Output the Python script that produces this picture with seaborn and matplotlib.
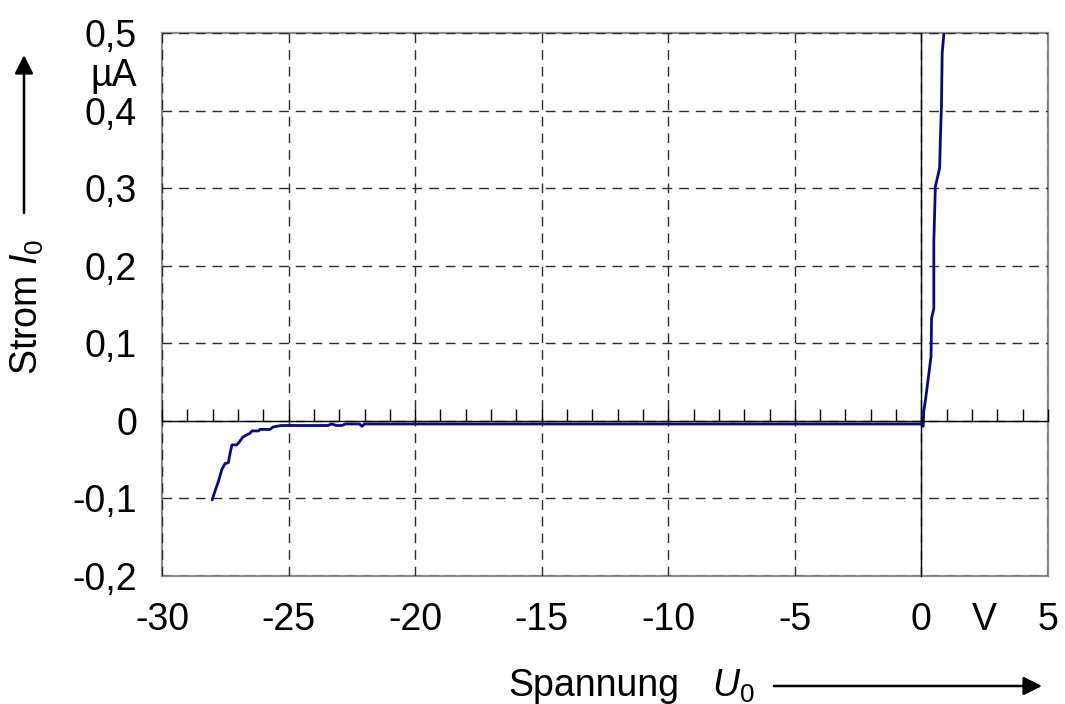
import numpy as np
import pandas as pd
import matplotlib
matplotlib.use("Agg")
import matplotlib.pyplot as plt
import seaborn as sns

# ---- data ----
spannung = [-28.02, -27.89, -27.77, -27.64, -27.51, -27.38, -27.31, -27.24, -27.05,
            -26.94, -26.81, -26.65, -26.52, -26.45, -26.19, -26.13, -25.73, -25.62,
            -25.30, -23.45, -23.30, -23.10, -22.90, -22.75, -22.20, -22.10, -22.00,
            -10.00, 0.00, 0.07, 0.09, 0.16, 0.38, 0.40, 0.49, 0.49, 0.55, 0.72,
            0.75, 0.79, 0.82, 0.89]
strom = [-0.102, -0.089, -0.078, -0.063, -0.055, -0.054, -0.042, -0.031, -0.031,
         -0.027, -0.021, -0.018, -0.016, -0.013, -0.013, -0.011, -0.011, -0.008,
         -0.006, -0.006, -0.004, -0.006, -0.006, -0.004, -0.004, -0.007, -0.004,
         -0.004, -0.004, -0.007, 0.012, 0.027, 0.083, 0.132, 0.145, 0.231, 0.302,
         0.326, 0.366, 0.405, 0.474, 0.500]

x_tick_vals = [-30, -25, -20, -15, -10, -5, 0, 2.5, 5]
x_tick_labels = ["-30", "-25", "-20", "-15", "-10", "-5", "0", "V", "5"]
y_tick_vals = [-0.2, -0.1, 0.0, 0.1, 0.2, 0.3, 0.4, 0.45, 0.5]
y_tick_labels = ["-0,2", "-0,1", "0", "0,1", "0,2", "0,3", "0,4", "µA", "0,5"]

df = pd.DataFrame({"U": spannung, "I": strom})

sns.set_theme(style="white")
plt.rcParams["font.family"] = ["Liberation Sans", "DejaVu Sans"]
plt.rcParams["mathtext.fontset"] = "custom"
plt.rcParams["mathtext.rm"] = "Liberation Sans"
plt.rcParams["mathtext.it"] = "Liberation Sans:italic"
plt.rcParams["text.color"] = "black"
plt.rcParams["xtick.color"] = "black"
plt.rcParams["ytick.color"] = "black"

FS = 27

fig = plt.figure(figsize=(10.65, 7.04), dpi=100)
pos = [162 / 1065, 1 - 576 / 704, (1048 - 162) / 1065, (576 - 33) / 704]
ax = fig.add_axes(pos)
ax.set_xlim(-30, 5)
ax.set_ylim(-0.2, 0.5)

# frame and outer tick labels
for sp in ax.spines.values():
    sp.set_color("#8c8c8c")
    sp.set_linewidth(1.6)
ax.set_xticks(x_tick_vals)
ax.set_xticklabels(x_tick_labels, fontsize=FS)
ax.set_yticks(y_tick_vals)
ax.set_yticklabels(y_tick_labels, fontsize=FS)
ax.tick_params(axis="x", length=0, pad=19, labelcolor="black")
ax.tick_params(axis="y", length=0, pad=18, labelcolor="black")
ax.grid(False)

# overlay axes: zero axes, ticks, grid
ax2 = fig.add_axes(pos, frameon=True)
ax2.patch.set_alpha(0)
ax2.set_xlim(-30, 5)
ax2.set_ylim(-0.2, 0.5)
for k in ["top", "right"]:
    ax2.spines[k].set_visible(False)
ax2.spines["left"].set_position(("data", 0))
ax2.spines["bottom"].set_position(("data", 0))
for k in ["left", "bottom"]:
    ax2.spines[k].set_color("black")
    ax2.spines[k].set_linewidth(1.0)
ax2.set_xticks(np.arange(-30, 5.1, 5))
ax2.set_xticks(np.arange(-30, 5.1, 1), minor=True)
ax2.set_yticks(np.arange(-0.2, 0.51, 0.1))
ax2.set_yticks(np.arange(-0.2, 0.501, 0.02), minor=True)
ax2.tick_params(axis="x", which="both", direction="in", length=9, width=1,
                color="black", labelbottom=False, bottom=True, top=False)
ax2.tick_params(axis="y", which="minor", direction="out", length=8, width=1,
                color="black", labelleft=False)
ax2.tick_params(axis="y", which="major", direction="inout", length=16, width=1,
                color="black", labelleft=False)
ax2.grid(True, which="major", axis="both", color="#2a2a2a", linestyle=(0, (7, 5)),
         linewidth=1.0)
ax2.set_axisbelow(True)

sns.lineplot(data=df, x="U", y="I", sort=False, estimator=None, ax=ax2,
             color="#0a0a80", linewidth=2.0)
ax2.set_xlabel("")
ax2.set_ylabel("")

# axis titles with arrows
fig.text(27 / 1065, 1 - 307 / 704, r"Strom $\mathit{I}_\mathit{0}$", rotation=90,
         ha="center", va="center", fontsize=FS)
ax.annotate("", xy=(24 / 1065, 1 - 55 / 704), xytext=(24 / 1065, 1 - 213 / 704),
            xycoords="figure fraction", textcoords="figure fraction",
            arrowprops=dict(arrowstyle="-|>", color="black", lw=1.8,
                            mutation_scale=28, shrinkA=0, shrinkB=0))
fig.text(508 / 1065, 1 - 686 / 704, "Spannung",
         ha="left", va="center", fontsize=FS)
fig.text(712 / 1065, 1 - 686 / 704, r"$\mathit{U}_\mathit{0}$",
         ha="left", va="center", fontsize=FS)
ax.annotate("", xy=(1042 / 1065, 1 - 686 / 704), xytext=(774 / 1065, 1 - 686 / 704),
            xycoords="figure fraction", textcoords="figure fraction",
            arrowprops=dict(arrowstyle="-|>", color="black", lw=1.8,
                            mutation_scale=28, shrinkA=0, shrinkB=0))

fig.savefig("out.png", dpi=100)
